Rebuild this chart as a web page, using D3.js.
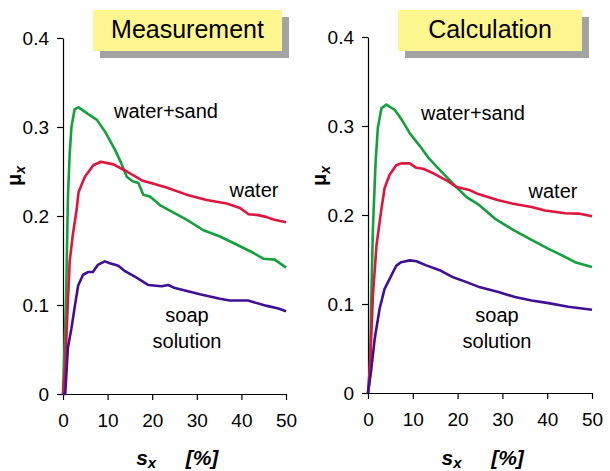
<!DOCTYPE html>
<html>
<head>
<meta charset="utf-8">
<script src="https://cdn.jsdelivr.net/npm/d3@7"></script>
<style>
  body { margin: 0; background: #fff; }
  text { font-family: "Liberation Sans", Arial, sans-serif; }
</style>
</head>
<body>
<script>
// friction coefficient mu_x vs slip s_x, measured and calculated

var W = 610, H = 471;

var xTicks = [0, 10, 20, 30, 40, 50];
var yTicks = [0, 0.1, 0.2, 0.3, 0.4];

// measurement
var measSandS  = [0, 0.7, 1.1, 1.5, 1.9, 2.6, 3.5, 5.5, 7.6, 9.4, 11.7, 13.0, 14.3, 15.6, 16.9, 18.0, 19.5, 21.8, 24.7, 27.7, 31.5, 35.2, 39.7, 42.5, 44.9, 47.5, 50];
var measSandMu = [0, 0.11, 0.22, 0.27, 0.30, 0.32, 0.322, 0.315, 0.308, 0.295, 0.274, 0.26, 0.244, 0.239, 0.237, 0.224, 0.222, 0.212, 0.204, 0.196, 0.184, 0.177, 0.166, 0.159, 0.152, 0.151, 0.142];

var measWaterS  = [0, 0.5, 1.0, 1.5, 2.2, 3.0, 3.5, 4.9, 6.8, 8.5, 11.3, 14.3, 17.7, 20.5, 23.2, 27.7, 32.2, 36.7, 39.7, 41.6, 43.8, 45.5, 47.2, 50];
var measWaterMu = [0, 0.03, 0.092, 0.149, 0.179, 0.205, 0.227, 0.244, 0.257, 0.261, 0.258, 0.25, 0.24, 0.236, 0.232, 0.224, 0.218, 0.214, 0.209, 0.202, 0.201, 0.199, 0.196, 0.193];

var measSoapS  = [0, 0.5, 1.1, 1.9, 2.6, 3.4, 4.5, 5.6, 6.7, 7.8, 9.4, 10.5, 12.4, 13.9, 16.1, 18.0, 19.1, 22.1, 23.6, 25.1, 30.7, 35.2, 37.4, 41.5, 45.7, 48.3, 50];
var measSoapMu = [0, 0, 0.052, 0.074, 0.097, 0.122, 0.134, 0.137, 0.137, 0.145, 0.149, 0.147, 0.144, 0.138, 0.132, 0.126, 0.1225, 0.121, 0.1225, 0.119, 0.112, 0.107, 0.105, 0.105, 0.099, 0.096, 0.093];

// calculation
var calcSandS  = [0, 0.4, 0.75, 1.1, 1.7, 2.2, 3.0, 4.1, 6.0, 7.8, 9.3, 11.5, 13.7, 16.7, 19.7, 22, 24.6, 28.3, 32.5, 36.5, 40.3, 43.2, 46.2, 50];
var calcSandMu = [0, 0.017, 0.11, 0.185, 0.26, 0.298, 0.32, 0.324, 0.318, 0.305, 0.292, 0.278, 0.263, 0.247, 0.2315, 0.22, 0.212, 0.196, 0.183, 0.172, 0.162, 0.155, 0.147, 0.1415];

var calcWaterS  = [0, 0.5, 1.1, 1.9, 3.0, 3.7, 4.8, 6.3, 7.4, 9.3, 10.8, 12.3, 14.5, 17.5, 19.7, 22.7, 24.6, 29.1, 32.1, 36.5, 39.5, 44, 47, 50];
var calcWaterMu = [0, 0.035, 0.11, 0.166, 0.207, 0.23, 0.245, 0.256, 0.258, 0.258, 0.253, 0.252, 0.247, 0.239, 0.2315, 0.228, 0.2235, 0.2166, 0.213, 0.209, 0.205, 0.202, 0.2016, 0.1985];

var calcSoapS  = [0, 0.74, 1.5, 2.6, 3.7, 4.8, 6.3, 7.4, 9.3, 10.8, 13, 16, 19, 22, 24.6, 29.1, 32.8, 36.5, 40.3, 44.7, 50];
var calcSoapMu = [0, 0.027, 0.061, 0.095, 0.117, 0.128, 0.143, 0.147, 0.149, 0.148, 0.1434, 0.138, 0.13, 0.1246, 0.1195, 0.1134, 0.1078, 0.104, 0.101, 0.097, 0.0936];

var GREEN = '#14a03c', RED = '#e0143c', PURPLE = '#3f0f96';

var svg = d3.select('body').append('svg')
  .attr('width', W)
  .attr('height', H);

function zip(xs, ys) {
  return xs.map(function(x, i) { return [x, ys[i]]; });
}

function panel(opt) {
  var x = d3.scaleLinear().domain([0, 50]).range([opt.x0, opt.x1]);
  var y = d3.scaleLinear().domain([0, 0.4]).range([opt.y0, opt.y1]);
  var g = svg.append('g');

  // title box with shadow
  g.append('rect')
    .attr('x', opt.box[0] + 7).attr('y', opt.box[1] + 7)
    .attr('width', opt.box[2]).attr('height', opt.box[3])
    .attr('fill', '#a3a3a3');
  g.append('rect')
    .attr('x', opt.box[0]).attr('y', opt.box[1])
    .attr('width', opt.box[2]).attr('height', opt.box[3])
    .attr('fill', '#fff68f');
  g.append('text')
    .attr('x', opt.box[0] + opt.box[2] / 2)
    .attr('y', opt.box[1] + 28)
    .attr('text-anchor', 'middle')
    .attr('font-size', 25)
    .text(opt.title);

  var xAxis = g.append('g')
    .attr('transform', 'translate(0,' + opt.y0 + ')')
    .call(d3.axisBottom(x).tickValues(xTicks).tickSize(6).tickSizeOuter(0).tickPadding(14));
  var yAxis = g.append('g')
    .attr('transform', 'translate(' + opt.x0 + ',0)')
    .call(d3.axisLeft(y).tickValues(yTicks).tickSize(6).tickSizeOuter(0).tickPadding(8)
      .tickFormat(function(d) { return d === 0 ? '0' : d.toFixed(1); }));
  [xAxis, yAxis].forEach(function(a) {
    a.selectAll('text').attr('font-size', 19).attr('fill', '#000')
      .attr('font-family', '"Liberation Sans", Arial, sans-serif');
    a.selectAll('path, line').attr('stroke', '#000').attr('stroke-width', 1.2);
  });

  var line = d3.line()
    .x(function(d) { return x(d[0]); })
    .y(function(d) { return y(d[1]); });

  opt.series.forEach(function(s) {
    g.append('path')
      .datum(zip(s.s, s.mu))
      .attr('d', line)
      .attr('fill', 'none')
      .attr('stroke', s.color)
      .attr('stroke-width', 2.6)
      .attr('stroke-linejoin', 'round');
  });

  // curve labels
  opt.labels.forEach(function(l) {
    g.append('text')
      .attr('x', l[1]).attr('y', l[2])
      .attr('text-anchor', 'middle')
      .attr('font-size', 20)
      .text(l[0]);
  });

  // y label  mu_x
  var yl = g.append('text')
    .attr('transform', 'translate(' + (opt.x0 - 42) + ',' + 176 + ') rotate(-90)')
    .attr('text-anchor', 'middle')
    .attr('font-size', 20)
    .attr('font-weight', 'bold');
  yl.append('tspan').text('\u03bc');
  yl.append('tspan').attr('font-size', 14).attr('font-style', 'italic')
    .attr('dy', 4).text('x');

  // x label  s_x [%]
  var xl = g.append('text')
    .attr('x', x(16.4)).attr('y', 465)
    .attr('font-size', 21)
    .attr('font-weight', 'bold')
    .attr('font-style', 'italic');
  xl.append('tspan').text('s');
  xl.append('tspan').attr('font-size', 15).attr('dy', 3).text('x');
  g.append('text')
    .attr('x', x(27.5)).attr('y', 465)
    .attr('font-size', 21)
    .attr('font-weight', 'bold')
    .attr('font-style', 'italic')
    .text('[%]');
}

panel({
  x0: 63, x1: 286, y0: 394, y1: 38,
  title: 'Measurement',
  box: [93, 10, 189, 41],
  series: [
    {s: measSandS, mu: measSandMu, color: GREEN},
    {s: measWaterS, mu: measWaterMu, color: RED},
    {s: measSoapS, mu: measSoapMu, color: PURPLE}
  ],
  labels: [['water+sand', 166, 118], ['water', 254, 197], ['soap', 187, 322], ['solution', 187, 348]]
});

panel({
  x0: 368, x1: 592, y0: 393, y1: 37,
  title: 'Calculation',
  box: [398, 10, 184, 41],
  series: [
    {s: calcSandS, mu: calcSandMu, color: GREEN},
    {s: calcWaterS, mu: calcWaterMu, color: RED},
    {s: calcSoapS, mu: calcSoapMu, color: PURPLE}
  ],
  labels: [['water+sand', 473, 120], ['water', 553, 198], ['soap', 497, 322], ['solution', 497, 348]]
});
</script>
</body>
</html>
